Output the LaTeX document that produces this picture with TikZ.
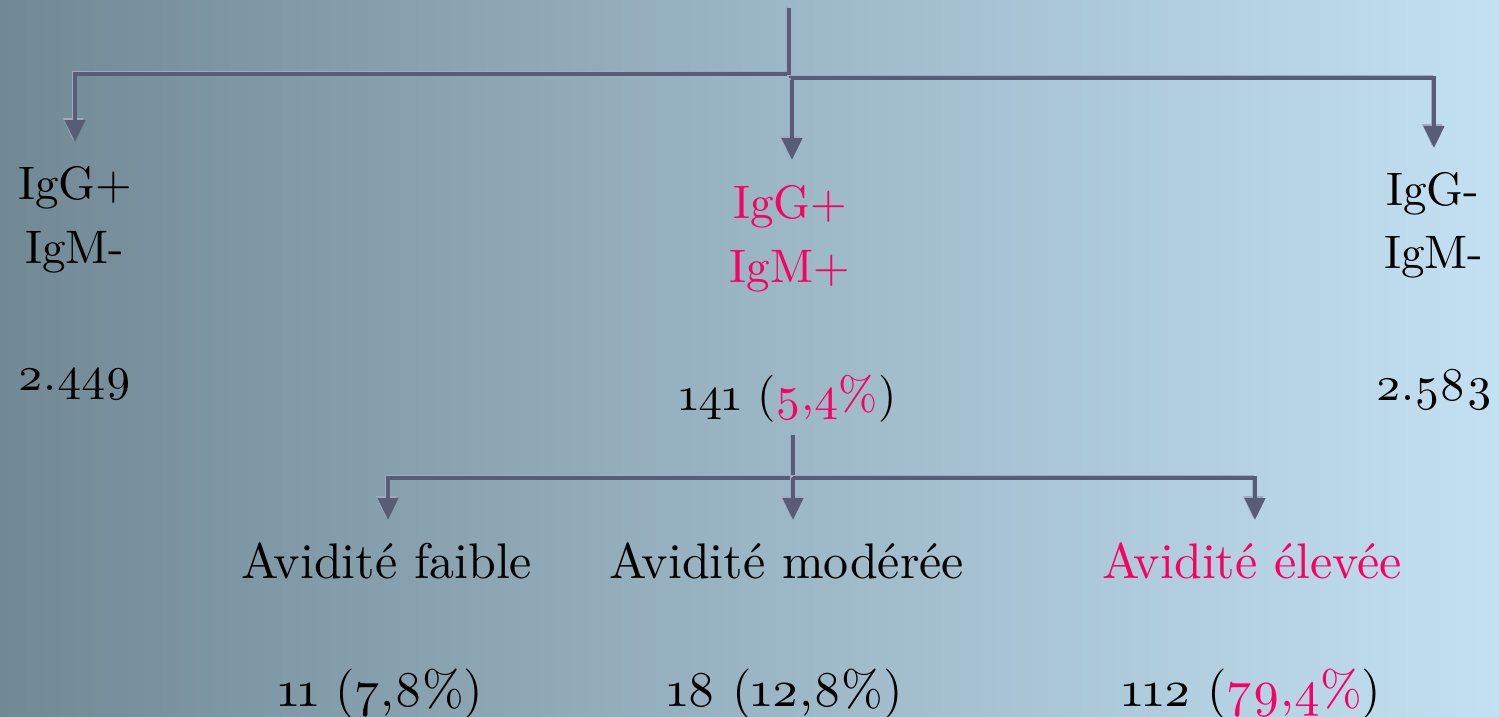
\documentclass[tikz,border=0pt]{standalone}
\usepackage{fontspec}
\setmainfont{lmroman10-regular}[Extension=.otf, Numbers=OldStyle]
\usetikzlibrary{arrows.meta}
\definecolor{bgL}{HTML}{718995}
\definecolor{bgR}{HTML}{C3E1F2}
\definecolor{conn}{HTML}{585D75}
\definecolor{connL}{HTML}{A3A8C0}
\definecolor{hl}{HTML}{FA0066}
\begin{document}
\begin{tikzpicture}[x=1pt,y=-1pt,
  up/.style={font=\fontsize{47}{56}\selectfont, anchor=base, inner sep=0pt},
  lo/.style={font=\fontsize{50}{60}\selectfont, anchor=base, inner sep=0pt},
  pink/.style={text=hl},
  conline/.style={draw=conn, line width=4.5pt, line join=miter,
    preaction={draw=connL, line width=2pt, transform canvas={shift={(-1.8pt,1.8pt)}}}},
  arr/.style={conline, -{Triangle[width=20pt,length=22pt]}}]
\useasboundingbox (0,0) rectangle (1499,717);
\shade[left color=bgL, right color=bgR] (0,0) rectangle (1499,717);

% texts
\node[up] (lg) at (75,199) {IgG+};
\node[up] (lm) at (75,263) {IgM-};
\node[up] (ln) at (75,390) {2.449};
\node[up,pink] (mg) at (790,218) {IgG+};
\node[up,pink] (mm) at (790,282) {IgM+};
\node[up] (mn) at (788,410) {141 (\textcolor{hl}{5,4\%})};
\node[up] (rg) at (1433,205) {IgG-};
\node[up] (rm) at (1434,268) {IgM-};
\node[up] (rn) at (1434,400) {2.583};

\node[lo] (af) at (387,578) {Avidité faible};
\node[lo] (am) at (787,578) {Avidité modérée};
\node[lo,pink] (ae) at (1252,578) {Avidité élevée};
\node[lo] (nf) at (381,706) {11 (7,8\%)};
\node[lo] (nm) at (785,706) {18 (12,8\%)};
\node[lo] (ne) at (1252,706) {112 (\textcolor{hl}{79,4\%})};

% connector coordinates
\coordinate (top) at (789,8);
\coordinate (jl) at (789,74);
\coordinate (jr) at (789,78);
\coordinate (jm) at (792,80);
\coordinate (tl) at (75,142);
\coordinate (tm) at (792,160);
\coordinate (tr) at (1434,148);
\coordinate (ltop) at (793,435);
\coordinate (lj) at (793,478);
\coordinate (tlf) at (388,520);
\coordinate (tlm) at (793,520);
\coordinate (tle) at (1255,520);

\draw[arr] (top) -- (jl) -| (tl);
\draw[arr] (jr) -| (tr);
\draw[arr] (jm) -- (tm);
\draw[arr] (ltop) -- (lj) -| (tlf);
\draw[arr] (lj) -| (tle);
\draw[arr] (lj) -- (tlm);
\end{tikzpicture}
\end{document}
